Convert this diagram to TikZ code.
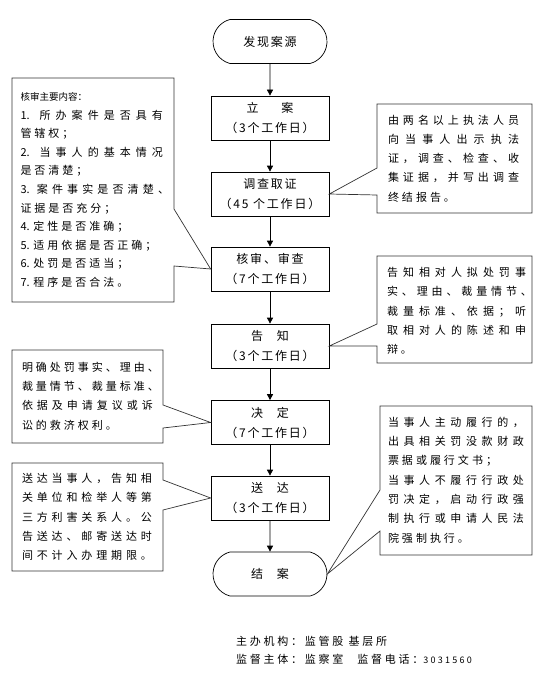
\documentclass[tikz,border=0pt]{standalone}
\usepackage{fontspec}
\newfontfamily\cjk{Noto Sans CJK SC}
\newfontfamily\cjkwide[LetterSpace=15]{Noto Sans CJK SC}
\newfontfamily\cjkfoot[LetterSpace=25]{Noto Sans CJK SC}
\usetikzlibrary{shapes.misc,arrows.meta}

% justified line inside a note
\newcommand\jl[1]{\makebox[\notew][s]{#1}}
\newcommand\notefont[1]{\cjk\fontsize{11}{#1}\selectfont\spaceskip=3pt plus 20pt minus 1pt\relax}

\tikzset{
  procbox/.style={draw, line width=0.7pt, minimum width=118pt, minimum height=44pt,
    inner sep=2pt, align=center, font=\cjkwide\fontsize{12}{20}\selectfont},
  termbox/.style={procbox, rounded rectangle, rounded rectangle arc length=150},
  flow/.style={line width=0.7pt, -{Triangle[length=6pt,width=6pt]}},
  noteline/.style={draw=black!80, line width=0.7pt},
  notetext/.style={align=left, inner sep=0pt, font=\notefont{19.3},
    execute at begin node={\def\notew{#1}}},
  foot/.style={anchor=west, inner sep=0pt, font=\cjkfoot\fontsize{11}{18}\selectfont}
}

\begin{document}
\begin{tikzpicture}[x=1pt,y=-1pt]
\useasboundingbox (0,0) rectangle (545,690);

% main flow
\node[termbox] (faxian) at (270,41.5) {发现案源};
\node[procbox] (lian) at (270,118) {立\hspace{23pt}案\\（3个工作日）};
\node[procbox] (diaocha) at (270,194) {调查取证\\（45 个工作日）};
\node[procbox] (hesheng) at (270,269) {核审、审查\\（7个工作日）};
\node[procbox] (gaozhi) at (270,346) {告\hspace{14pt}知\\（3个工作日）};
\node[procbox] (jueding) at (270,422.5) {决\hspace{14pt}定\\（7个工作日）};
\node[procbox] (songda) at (270,498) {送\hspace{14pt}达\\（3个工作日）};
\node[termbox] (jiean) at (270,574) {结\hspace{14pt}案};

\draw[flow] (faxian) -- (lian);
\draw[flow] (lian) -- (diaocha);
\draw[flow] (diaocha) -- (hesheng);
\draw[flow] (hesheng) -- (gaozhi);
\draw[flow] (gaozhi) -- (jueding);
\draw[flow] (jueding) -- (songda);
\draw[flow] (songda) -- (jiean);

% callouts
\draw[noteline] (12,78) -- (174,78) -- (174,209) -- (hesheng.west) -- (174,266)
  -- (174,302) -- (12,302) -- cycle;
\node[notetext=142.5pt, font=\notefont{18.6}] (hesheng note) at (91.75,190) {%
{\fontsize{9.5}{18.6}\selectfont 核审主要内容：}\\
\jl{1. 所 办 案 件 是 否 具 有}\\
管 辖 权 ；\\
\jl{2. 当 事 人 的 基 本 情 况}\\
是 否 清 楚 ；\\
\jl{3. 案 件 事 实 是 否 清 楚 、\kern-6pt}\\
证 据 是 否 充 分 ；\\
4. 定 性 是 否 准 确 ；\\
5. 适 用 依 据 是 否 正 确 ；\\
6. 处 罚 是 否 适 当 ；\\
7. 程 序 是 否 合 法 。};

\draw[noteline] (377,104) -- (532,104) -- (532,213) -- (377,213) -- (377,195)
  -- (diaocha.east) -- (377,168) -- cycle;
\node[notetext=131pt] (diaocha note) at (453.5,158.5) {%
\jl{由 两 名 以 上 执 法 人 员}\\
\jl{向 当 事 人 出 示 执 法}\\
\jl{证 ， 调 查 、 检 查 、 收}\\
\jl{集 证 据 ， 并 写 出 调 查}\\
终 结 报 告 。};

\draw[noteline] (377,256) -- (532,256) -- (532,363) -- (377,363) -- (377,346)
  -- (gaozhi.east) -- (377,324) -- cycle;
\node[notetext=139pt] (gaozhi note) at (456.5,311) {%
\jl{告 知 相 对 人 拟 处 罚 事}\\
\jl{实 、 理 由 、 裁 量 情 节 、\kern-6pt}\\
\jl{裁 量 标 准 、 依 据 ； 听}\\
\jl{取 相 对 人 的 陈 述 和 申}\\
辩 。};

\draw[noteline] (12,350) -- (163,350) -- (163,405) -- (jueding.west) -- (163,428)
  -- (163,443) -- (12,443) -- cycle;
\node[notetext=131pt] (jueding note) at (87.5,396) {%
\jl{明 确 处 罚 事 实 、 理 由 、\kern-6pt}\\
\jl{裁 量 情 节 、 裁 量 标 准 、\kern-6pt}\\
\jl{依 据 及 申 请 复 议 或 诉}\\
讼 的 救 济 权 利 。};

\draw[noteline] (12,463) -- (163,463) -- (163,480) -- (songda.west) -- (163,510)
  -- (163,571) -- (12,571) -- cycle;
\node[notetext=130pt] (songda note) at (87,517) {%
\jl{送 达 当 事 人 ， 告 知 相}\\
\jl{关 单 位 和 检 举 人 等 第}\\
\jl{三 方 利 害 关 系 人 。 公}\\
\jl{告 送 达 、 邮 寄 送 达 时}\\
\jl{间 不 计 入 办 理 期 限 。}};

\draw[noteline] (380,406) -- (532,406) -- (532,555) -- (380,555) -- (380,531)
  -- (jiean.east) -- (380,490) -- cycle;
\node[notetext=136pt] (jiean note) at (456,480) {%
\jl{当 事 人 主 动 履 行 的 ，}\\
\jl{出 具 相 关 罚 没 款 财 政}\\
票 据 或 履 行 文 书 ；\\
\jl{当 事 人 不 履 行 行 政 处}\\
\jl{罚 决 定 ， 启 动 行 政 强}\\
\jl{制 执 行 或 申 请 人 民 法}\\
院 强 制 执 行 。};

% footer
\node[foot] (zhuban) at (236,641) {主办机构：监管股 基层所};
\node[foot] (jiandu) at (236,659) {监督主体：监察室\hspace{14pt}监督电话：{\fontsize{9}{9}\selectfont 3031560}};
\end{tikzpicture}
\end{document}
